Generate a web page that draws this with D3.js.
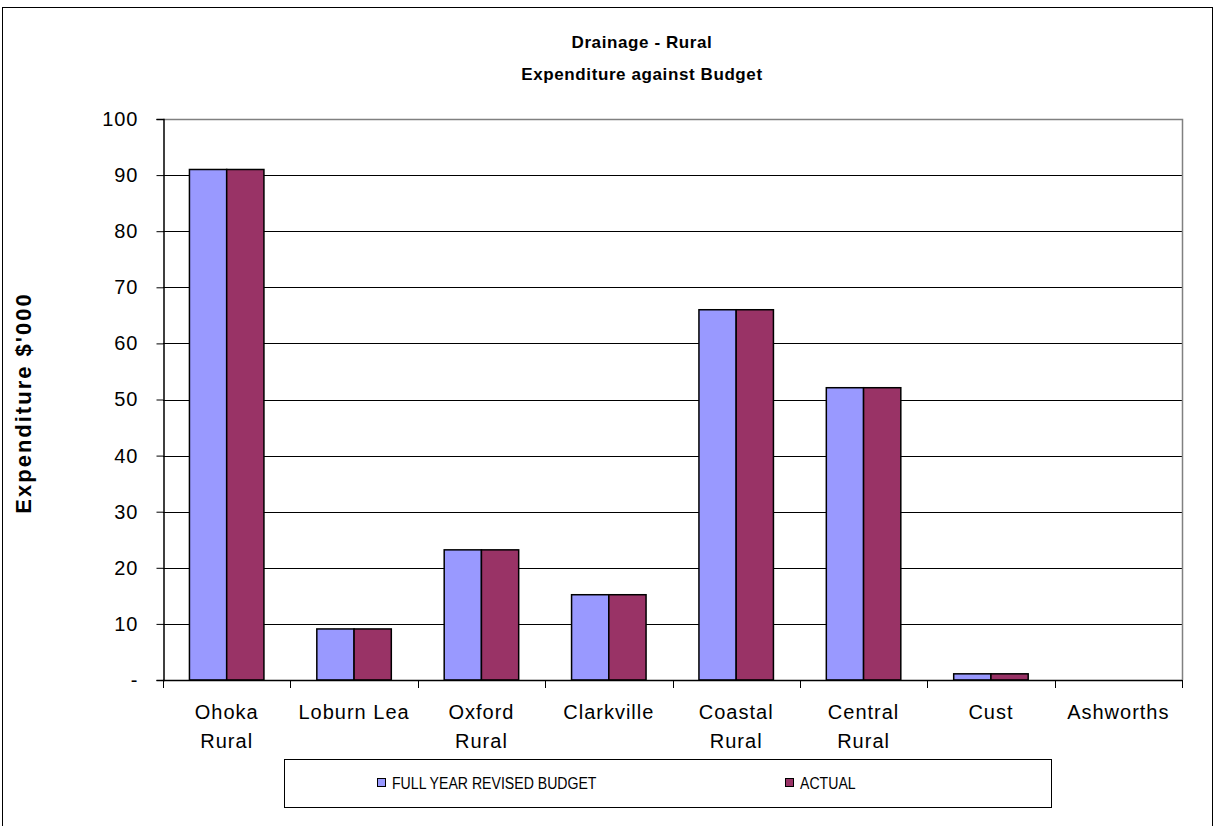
<!DOCTYPE html>
<html>
<head>
<meta charset="utf-8">
<script src="https://cdnjs.cloudflare.com/ajax/libs/d3/7.8.5/d3.min.js"></script>
<style>
  body { margin: 0; background: #fff; }
  svg { display: block; font-family: Arial, "Liberation Sans", sans-serif; }
</style>
</head>
<body>
<div id="chart"></div>
<script>
const categories = [['Ohoka', 'Rural'], ['Loburn Lea'], ['Oxford', 'Rural'], ['Clarkville'],
    ['Coastal', 'Rural'], ['Central', 'Rural'], ['Cust'], ['Ashworths']];
const budget = [91, 9.1, 23.2, 15.2, 66, 52.1, 1.1, 0];
const actual = [91, 9.1, 23.2, 15.2, 66, 52.1, 1.1, 0];
const seriesNames = ['FULL YEAR REVISED BUDGET', 'ACTUAL'];
const seriesColors = ['#9999FF', '#993366'];
const yTicks = [0, 10, 20, 30, 40, 50, 60, 70, 80, 90, 100];

const width = 1215, height = 826;
const plot = { left: 163, top: 119, right: 1182, bottom: 680 };

const svg = d3.select('#chart').append('svg')
    .attr('width', width)
    .attr('height', height);

// outer chart border
svg.append('rect')
    .attr('x', 2.5).attr('y', 7.5)
    .attr('width', 1210).attr('height', 830)
    .attr('fill', 'none')
    .attr('stroke', '#000')
    .attr('stroke-width', 1);

const x0 = d3.scaleBand()
    .domain(d3.range(categories.length))
    .range([plot.left, plot.right])
    .paddingInner(0).paddingOuter(0);

const x1 = d3.scaleBand()
    .domain([0, 1])
    .range([0, x0.bandwidth()])
    .paddingOuter(0.71).paddingInner(0);

const y = d3.scaleLinear()
    .domain([0, 100])
    .range([plot.bottom, plot.top]);

// gridlines
svg.append('g')
    .selectAll('line')
    .data(yTicks.filter(t => t > 0 && t < 100))
    .join('line')
    .attr('x1', plot.left).attr('x2', plot.right)
    .attr('y1', d => Math.round(y(d)) + 0.5)
    .attr('y2', d => Math.round(y(d)) + 0.5)
    .attr('stroke', '#000')
    .attr('stroke-width', 1);

// plot area frame: top and right gray
svg.append('path')
    .attr('d', `M${plot.left},${plot.top + 0.5}H${plot.right + 0.5}V${plot.bottom}`)
    .attr('fill', 'none')
    .attr('stroke', '#808080')
    .attr('stroke-width', 1.5);

// bars
const groups = svg.append('g')
    .selectAll('g')
    .data(categories.map((c, i) => [budget[i], actual[i]]))
    .join('g')
    .attr('transform', (d, i) => `translate(${x0(i)},0)`);

groups.selectAll('rect')
    .data(d => d.map((v, s) => ({ v, s })))
    .join('rect')
    .filter(d => d.v > 0)
    .attr('x', d => x1(d.s))
    .attr('y', d => y(d.v))
    .attr('width', x1.bandwidth())
    .attr('height', d => y(0) - y(d.v))
    .attr('fill', d => seriesColors[d.s])
    .attr('stroke', '#000')
    .attr('stroke-width', 1.5);

// y axis
const yAxis = d3.axisLeft(y)
    .tickValues(yTicks)
    .tickSize(7)
    .tickPadding(18)
    .tickFormat(d => d === 0 ? '-' : d);

const gy = svg.append('g')
    .attr('transform', `translate(${plot.left + 0.5},0)`)
    .call(yAxis);
gy.select('.domain').attr('stroke', '#000').attr('stroke-width', 1.5);
gy.selectAll('.tick line').attr('stroke', '#000');
gy.selectAll('.tick text')
    .attr('font-size', 20)
    .attr('letter-spacing', 1)
    .attr('fill', '#000')
    .attr('font-family', 'Arial, "Liberation Sans", sans-serif');

// x axis: boundaries between categories
const bounds = d3.range(categories.length + 1).map(i => plot.left + i * x0.bandwidth());
svg.append('line')
    .attr('x1', plot.left).attr('x2', plot.right)
    .attr('y1', plot.bottom + 0.5).attr('y2', plot.bottom + 0.5)
    .attr('stroke', '#000').attr('stroke-width', 1.5);
svg.append('g')
    .selectAll('line')
    .data(bounds)
    .join('line')
    .attr('x1', d => Math.round(d) + 0.5).attr('x2', d => Math.round(d) + 0.5)
    .attr('y1', plot.bottom).attr('y2', plot.bottom + 8)
    .attr('stroke', '#000');

const xl = svg.append('g')
    .selectAll('text')
    .data(categories)
    .join('text')
    .attr('x', (d, i) => x0(i) + x0.bandwidth() / 2)
    .attr('y', 719)
    .attr('text-anchor', 'middle')
    .attr('font-size', 20)
    .attr('letter-spacing', 1)
    .attr('fill', '#000');
xl.selectAll('tspan')
    .data(d => d)
    .join('tspan')
    .attr('x', function () { return this.parentNode.getAttribute('x'); })
    .attr('dy', (d, i) => i === 0 ? 0 : 29)
    .text(d => d);

// titles
svg.append('text')
    .attr('x', 642).attr('y', 48)
    .attr('text-anchor', 'middle')
    .attr('font-size', 17).attr('font-weight', 'bold')
    .attr('letter-spacing', 0.6)
    .text('Drainage - Rural');
svg.append('text')
    .attr('x', 642).attr('y', 80)
    .attr('text-anchor', 'middle')
    .attr('font-size', 17).attr('font-weight', 'bold')
    .attr('letter-spacing', 0.6)
    .text('Expenditure against Budget');

svg.append('text')
    .attr('transform', 'translate(31,403) rotate(-90)')
    .attr('text-anchor', 'middle')
    .attr('font-size', 22).attr('font-weight', 'bold')
    .attr('letter-spacing', 2)
    .text("Expenditure $'000");

// legend
const legend = svg.append('g');
legend.append('rect')
    .attr('x', 284.5).attr('y', 759.5)
    .attr('width', 767).attr('height', 48)
    .attr('fill', '#fff')
    .attr('stroke', '#000').attr('stroke-width', 1);

const legendX = [377, 785];
const items = legend.selectAll('g.item')
    .data(seriesNames)
    .join('g')
    .attr('class', 'item')
    .attr('transform', (d, i) => `translate(${legendX[i]},783)`);
items.append('rect')
    .attr('x', 0.5).attr('y', -4.5)
    .attr('width', 8).attr('height', 8)
    .attr('fill', (d, i) => seriesColors[i])
    .attr('stroke', '#000').attr('stroke-width', 1);
items.append('text')
    .attr('transform', 'translate(15,5.5) scale(0.83,1)')
    .attr('font-size', 17)
    .text(d => d);
</script>
</body>
</html>
